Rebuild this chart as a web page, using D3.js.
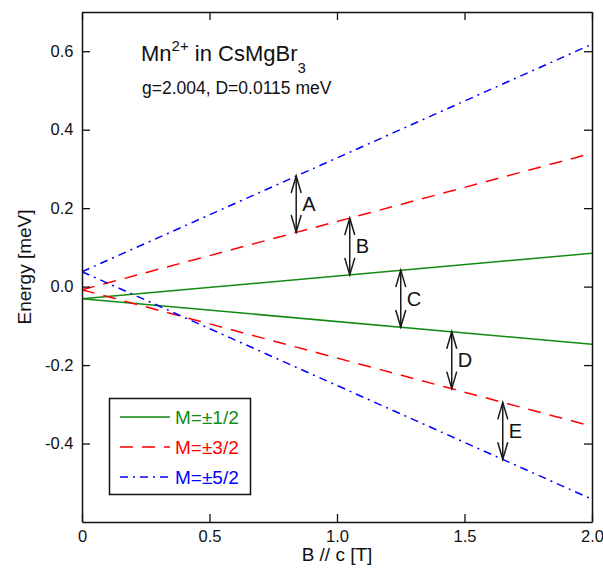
<!DOCTYPE html>
<html>
<head>
<meta charset="utf-8">
<script src="https://cdn.jsdelivr.net/npm/d3@7/dist/d3.min.js"></script>
<style>
  html, body { margin: 0; padding: 0; background: #fff; }
  svg { display: block; font-family: "Liberation Sans", Arial, Helvetica, sans-serif; }
</style>
</head>
<body>
<svg id="chart" width="603" height="575"></svg>
<script>
// Zeeman levels of Mn2+ (S = 5/2) in CsMgBr3, field along c
const fieldB = [0, 2.0];                       // B // c [T]
const halfUp = [-0.031, 0.085];                // M = +1/2
const halfDown = [-0.031, -0.147];             // M = -1/2
const threeHalfUp = [-0.008, 0.340];           // M = +3/2
const threeHalfDown = [-0.008, -0.356];        // M = -3/2
const fiveHalfUp = [0.038, 0.618];             // M = +5/2
const fiveHalfDown = [0.038, -0.542];          // M = -5/2

// EPR transitions between neighbouring levels
const transitionNames = ["A", "B", "C", "D", "E"];
const transitionB = [0.84, 1.05, 1.25, 1.45, 1.65];
const transitionTop = [0.282, 0.175, 0.042, -0.115, -0.295];
const transitionBottom = [0.139, 0.030, -0.103, -0.260, -0.440];

const legendLabels = ["M=\u00b11/2", "M=\u00b13/2", "M=\u00b15/2"];
const xTicks = [0, 0.5, 1.0, 1.5, 2.0];
const xTickLabels = ["0", "0.5", "1.0", "1.5", "2.0"];
const yTicks = [-0.4, -0.2, 0, 0.2, 0.4, 0.6];
const yTickLabels = ["-0.4", "-0.2", "0.0", "0.2", "0.4", "0.6"];

const margin = { left: 82, right: 11, top: 12, bottom: 53 };
const W = 603, H = 575;
const iw = W - margin.left - margin.right;
const ih = H - margin.top - margin.bottom;

const svg = d3.select("#chart");
const g = svg.append("g").attr("transform", `translate(${margin.left},${margin.top})`);

const x = d3.scaleLinear().domain([0, 2.0]).range([0, iw]);
const y = d3.scaleLinear().domain([-0.6, 0.7]).range([ih, 0]);

const styles = [
  { color: "#138a13", dash: null },
  { color: "#ff0000", dash: "13,9" },
  { color: "#0000ff", dash: "8,5,2,5" }
];

const series = [
  { values: halfUp, s: 0 }, { values: halfDown, s: 0 },
  { values: threeHalfUp, s: 1 }, { values: threeHalfDown, s: 1 },
  { values: fiveHalfUp, s: 2 }, { values: fiveHalfDown, s: 2 }
];

const line = d3.line().x(d => x(d[0])).y(d => y(d[1]));

g.selectAll("path.level")
  .data(series)
  .join("path")
  .attr("class", "level")
  .attr("d", d => line(fieldB.map((b, i) => [b, d.values[i]])))
  .attr("fill", "none")
  .attr("stroke", d => styles[d.s].color)
  .attr("stroke-width", 1.5)
  .attr("stroke-dasharray", d => styles[d.s].dash);

// Double-headed arrows marking the transitions
const arrowColor = "#1a1a1a";
const headLen = 17, headHalf = 5;
const arrows = g.append("g");
transitionNames.forEach((name, i) => {
  const ax = x(transitionB[i]);
  const y1 = y(transitionTop[i]);
  const y2 = y(transitionBottom[i]);
  arrows.append("line")
    .attr("x1", ax).attr("x2", ax).attr("y1", y1).attr("y2", y2)
    .attr("stroke", arrowColor).attr("stroke-width", 1.5);
  arrows.append("path")
    .attr("d", `M${ax - headHalf},${y1 + headLen} L${ax},${y1} L${ax + headHalf},${y1 + headLen}` +
               `M${ax - headHalf},${y2 - headLen} L${ax},${y2} L${ax + headHalf},${y2 - headLen}`)
    .attr("fill", "none").attr("stroke", arrowColor).attr("stroke-width", 1.5);
  arrows.append("text")
    .attr("x", ax + 6)
    .attr("y", (y1 + y2) / 2 + 7)
    .attr("font-size", 20)
    .attr("fill", "#111")
    .text(name);
});

// Axes with inward ticks on all four sides
const tickLen = 8;
const fmtX = (d) => xTickLabels[xTicks.indexOf(d)];
const fmtY = (d) => yTickLabels[yTicks.findIndex(v => Math.abs(v - d) < 1e-9)];

const axBottom = g.append("g").attr("transform", `translate(0,${ih})`)
  .call(d3.axisBottom(x).tickValues(xTicks).tickFormat(fmtX)
    .tickSizeInner(-tickLen).tickSizeOuter(0).tickPadding(8.3));
const axTop = g.append("g")
  .call(d3.axisTop(x).tickValues(xTicks).tickFormat("")
    .tickSizeInner(-tickLen).tickSizeOuter(0));
const axLeft = g.append("g")
  .call(d3.axisLeft(y).tickValues(yTicks).tickFormat(fmtY)
    .tickSizeInner(-tickLen).tickSizeOuter(0).tickPadding(8.5));
const axRight = g.append("g").attr("transform", `translate(${iw},0)`)
  .call(d3.axisRight(y).tickValues(yTicks).tickFormat("")
    .tickSizeInner(-tickLen).tickSizeOuter(0));

[axBottom, axTop, axLeft, axRight].forEach(a => {
  a.selectAll(".domain").attr("stroke", "#111").attr("stroke-width", 1.5);
  a.selectAll(".tick line").attr("stroke", "#111").attr("stroke-width", 1.3);
  a.selectAll(".tick text").attr("font-size", 16.5).attr("fill", "#111")
    .attr("font-family", "'Liberation Sans', Arial, Helvetica, sans-serif");
});

// Axis titles
svg.append("text")
  .attr("x", margin.left + iw / 2).attr("y", 561)
  .attr("text-anchor", "middle").attr("font-size", 19).attr("fill", "#111")
  .text("B // c [T]");
svg.append("text")
  .attr("transform", `translate(31,${margin.top + ih / 2}) rotate(-90)`)
  .attr("text-anchor", "middle").attr("font-size", 19).attr("fill", "#111")
  .text("Energy [meV]");

// Title block
const t1 = svg.append("text").attr("x", 141).attr("y", 61)
  .attr("font-size", 22).attr("fill", "#111");
t1.append("tspan").text("Mn");
t1.append("tspan").attr("font-size", 15).attr("dy", -10).text("2+");
t1.append("tspan").attr("dy", 10).text(" in CsMgBr");
t1.append("tspan").attr("font-size", 15).attr("dy", 12).text("3");

svg.append("text").attr("x", 142).attr("y", 94)
  .attr("font-size", 17.5).attr("fill", "#111")
  .text("g=2.004, D=0.0115 meV");

// Legend
const lg = g.append("g").attr("transform", `translate(${x(0) + 27.5},${386.5})`);
lg.append("rect").attr("x", 0).attr("y", 0).attr("width", 141).attr("height", 96)
  .attr("fill", "#fff").attr("stroke", "#111").attr("stroke-width", 1.5);
legendLabels.forEach((lab, i) => {
  const ry = 18.5 + i * 30;
  lg.append("line").attr("x1", 10.5).attr("x2", 60.5).attr("y1", ry).attr("y2", ry)
    .attr("stroke", styles[i].color).attr("stroke-width", 1.5)
    .attr("stroke-dasharray", styles[i].dash);
  lg.append("text").attr("x", 65.5).attr("y", ry + 7)
    .attr("font-size", 19).attr("fill", styles[i].color).text(lab);
});
</script>
</body>
</html>
